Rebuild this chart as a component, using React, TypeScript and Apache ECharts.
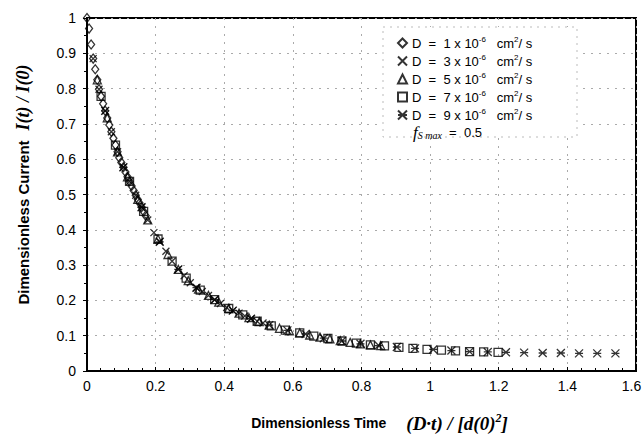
import React, { useEffect, useRef } from "react";
import * as echarts from "echarts";

// ---- data ----
const seriesNames = [
  "D = 1 x 10^-6 cm^2/s",
  "D = 3 x 10^-6 cm^2/s",
  "D = 5 x 10^-6 cm^2/s",
  "D = 7 x 10^-6 cm^2/s",
  "D = 9 x 10^-6 cm^2/s",
];
const legendNumbers = ["1", "3", "5", "7", "9"];

const xD1 = [0, 0.006, 0.012, 0.018, 0.024, 0.03, 0.035, 0.041, 0.047, 0.053, 0.059, 0.065, 0.071, 0.077, 0.083, 0.089, 0.094, 0.1, 0.106, 0.112, 0.118, 0.124, 0.13, 0.136, 0.142, 0.148, 0.153, 0.159, 0.165, 0.171];
const yD1 = [1.0, 0.97, 0.925, 0.885, 0.855, 0.825, 0.798, 0.778, 0.757, 0.737, 0.717, 0.697, 0.678, 0.659, 0.64, 0.621, 0.604, 0.591, 0.577, 0.564, 0.55, 0.537, 0.524, 0.511, 0.498, 0.486, 0.476, 0.464, 0.452, 0.44];

const xD3 = [0.018, 0.035, 0.053, 0.071, 0.089, 0.106, 0.124, 0.142, 0.159, 0.177, 0.195, 0.212, 0.23, 0.248, 0.266, 0.283, 0.301, 0.319, 0.336, 0.354, 0.372, 0.389, 0.407, 0.425, 0.443, 0.46, 0.478, 0.496, 0.513];
const yD3 = [0.885, 0.798, 0.737, 0.678, 0.621, 0.577, 0.537, 0.498, 0.464, 0.428, 0.392, 0.366, 0.339, 0.311, 0.288, 0.27, 0.25, 0.236, 0.225, 0.214, 0.202, 0.191, 0.18, 0.171, 0.164, 0.156, 0.148, 0.141, 0.136];

const xD5 = [0.03, 0.059, 0.089, 0.118, 0.148, 0.177, 0.207, 0.236, 0.266, 0.295, 0.325, 0.354, 0.384, 0.413, 0.443, 0.472, 0.502, 0.531, 0.561, 0.59, 0.62, 0.649, 0.679, 0.708, 0.738, 0.767, 0.797, 0.826, 0.856];
const yD5 = [0.825, 0.717, 0.621, 0.55, 0.486, 0.428, 0.374, 0.33, 0.288, 0.256, 0.232, 0.214, 0.195, 0.177, 0.164, 0.151, 0.14, 0.13, 0.121, 0.114, 0.108, 0.102, 0.096, 0.091, 0.086, 0.081, 0.077, 0.074, 0.072];

const xD7 = [0.041, 0.083, 0.124, 0.165, 0.207, 0.248, 0.289, 0.33, 0.372, 0.413, 0.454, 0.496, 0.537, 0.578, 0.62, 0.661, 0.702, 0.743, 0.785, 0.826, 0.867, 0.909, 0.95, 0.991, 1.033, 1.074, 1.115, 1.156, 1.198];
const yD7 = [0.778, 0.64, 0.537, 0.452, 0.374, 0.311, 0.263, 0.229, 0.202, 0.177, 0.159, 0.141, 0.128, 0.116, 0.108, 0.099, 0.092, 0.085, 0.079, 0.074, 0.071, 0.067, 0.064, 0.061, 0.059, 0.057, 0.055, 0.054, 0.053];

const xD9 = [0.053, 0.106, 0.159, 0.212, 0.266, 0.319, 0.372, 0.425, 0.478, 0.531, 0.584, 0.637, 0.69, 0.743, 0.797, 0.85, 0.903, 0.956, 1.009, 1.062, 1.115, 1.168, 1.221, 1.274, 1.328, 1.381, 1.434, 1.487, 1.54];
const yD9 = [0.737, 0.577, 0.464, 0.366, 0.288, 0.236, 0.202, 0.171, 0.148, 0.13, 0.115, 0.105, 0.093, 0.085, 0.077, 0.072, 0.068, 0.064, 0.061, 0.058, 0.055, 0.054, 0.053, 0.052, 0.051, 0.051, 0.05, 0.05, 0.05];

const xSeries = [xD1, xD3, xD5, xD7, xD9];
const ySeries = [yD1, yD3, yD5, yD7, yD9];

const SANS = "'Liberation Sans', Arial, sans-serif";
const SERIF = "'Liberation Serif', 'Times New Roman', serif";

const symbols: any[] = [
  "diamond",
  "path://M0,0L10,10M10,0L0,10",
  "triangle",
  "rect",
  "path://M0,0L10,10M10,0L0,10M0,5L10,5",
];
const symbolSizes: any[] = [[7, 9], 7, 8, 8, 8];

export default function App() {
  const ref = useRef<HTMLDivElement>(null);
  useEffect(() => {
    if (!ref.current) return;
    const chart = echarts.init(ref.current, null, { renderer: "svg", width: 642, height: 434 });
    const series = seriesNames.map((name, i) => ({
      name,
      type: "scatter",
      data: xSeries[i].map((x, j) => [x, ySeries[i][j]]),
      symbol: symbols[i],
      symbolSize: symbolSizes[i],
      itemStyle: {
        color: "rgba(0,0,0,0)",
        borderColor: "#000",
        borderWidth: 1.3,
      },
      z: 3,
    }));
    chart.setOption({
      animation: false,
      backgroundColor: "#fff",
      grid: {
        left: 87,
        right: 6,
        top: 18,
        bottom: 63,
        show: true,
        borderColor: "#000",
        borderWidth: 2,
        outerBoundsMode: "none",
        containLabel: false,
      },
      xAxis: {
        type: "value",
        min: 0,
        max: 1.6,
        interval: 0.2,
        axisLine: { lineStyle: { color: "#000", width: 2 } },
        axisTick: { show: true, inside: true, length: 4, lineStyle: { color: "#000" } },
        minorTick: { show: true, splitNumber: 5, length: 3, lineStyle: { color: "#000" } },
        axisLabel: {
          color: "#000",
          fontFamily: SANS,
          fontSize: 14,
          margin: 8,
          formatter: (v: number) => (v >= 1.6 ? "{last|1.6}" : String(v)),
          rich: {
            last: { fontFamily: SANS, fontSize: 14, color: "#000", padding: [0, 9, 0, 0] },
          },
        },
        splitLine: { show: true, lineStyle: { color: "#aaa", type: [2, 6], width: 1 } },
        name: "{a|Dimensionless Time}      {b|(D·t) / [d(0)}{c|2}{b|]}",
        nameLocation: "middle",
        nameGap: 41,
        nameTextStyle: {
          padding: [0, 0, 0, 36],
          rich: {
            a: { fontFamily: SANS, fontWeight: "bold", fontSize: 14, color: "#000" },
            b: { fontFamily: SERIF, fontWeight: "bold", fontStyle: "italic", fontSize: 19, color: "#000" },
            c: { fontFamily: SERIF, fontWeight: "bold", fontStyle: "italic", fontSize: 12, color: "#000", padding: [0, 0, 10, 0] },
          },
        },
      },
      yAxis: {
        type: "value",
        min: 0,
        max: 1,
        interval: 0.1,
        axisLine: { lineStyle: { color: "#000", width: 2 } },
        axisTick: { show: true, inside: false, length: 4, lineStyle: { color: "#000" } },
        minorTick: { show: true, splitNumber: 2, length: 3, lineStyle: { color: "#000" } },
        axisLabel: { color: "#000", fontFamily: SANS, fontSize: 14, margin: 11 },
        splitLine: { show: true, lineStyle: { color: "#aaa", type: [2, 6], width: 1 } },
        name: "{a|Dimensionless Current}   {b|I(t) / I(0)}",
        nameLocation: "middle",
        nameGap: 55,
        nameRotate: 90,
        nameTextStyle: {
          padding: [0, 0, 0, 20],
          rich: {
            a: { fontFamily: SANS, fontWeight: "bold", fontSize: 15, color: "#000" },
            b: { fontFamily: SERIF, fontWeight: "bold", fontStyle: "italic", fontSize: 18, color: "#000" },
          },
        },
      },
      legend: {
        orient: "vertical",
        left: 392,
        top: 30,
        itemWidth: 9,
        itemHeight: 9,
        itemGap: 3,
        z: 5,
        data: seriesNames,
        formatter: (name: string) => {
          const i = seriesNames.indexOf(name);
          return `D  =  ${legendNumbers[i]} x 10{sup|-6}   cm{sup|2}/ s`;
        },
        textStyle: {
          fontFamily: SANS,
          fontSize: 13,
          color: "#000",
          lineHeight: 14,
          rich: {
            sup: { fontFamily: SANS, fontSize: 8, color: "#000", padding: [0, 0, 8, 0] },
          },
        },
      },
      graphic: [
        {
          type: "rect",
          z: 1,
          shape: { x: 383, y: 27, width: 194, height: 110 },
          style: { fill: "#fff", stroke: "#bbb", lineWidth: 1, lineDash: [2, 5] },
        },
        {
          type: "text",
          z: 5,
          left: 413,
          top: 124,
          style: {
            text: "{f|f}{s|S max}{t|  =  0.5}",
            rich: {
              f: { fontFamily: SERIF, fontStyle: "italic", fontSize: 17, fill: "#000" },
              s: { fontFamily: SERIF, fontStyle: "italic", fontSize: 10, fill: "#000", padding: [6, 0, 0, 0] },
              t: { fontFamily: SANS, fontSize: 13, fill: "#000" },
            },
          },
        },
      ],
      series,
    });
    return () => chart.dispose();
  }, []);
  return (
    <div
      ref={ref}
      style={{ position: "fixed", left: 0, top: 0, width: 642, height: 434, background: "#fff" }}
    />
  );
}
